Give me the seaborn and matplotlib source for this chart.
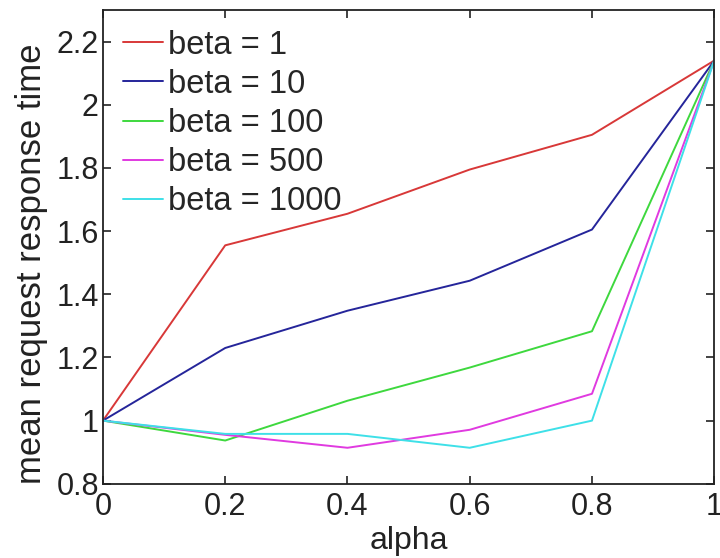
import matplotlib
matplotlib.use("Agg")
import matplotlib.pyplot as plt
import pandas as pd
import seaborn as sns

# ── data ──────────────────────────────────────────────────────────────────
alpha = [0.0, 0.2, 0.4, 0.6, 0.8, 1.0]
beta_labels = ["beta = 1", "beta = 10", "beta = 100", "beta = 500", "beta = 1000"]
rt_beta1 = [1.00, 1.555, 1.655, 1.795, 1.905, 2.14]
rt_beta10 = [1.00, 1.230, 1.348, 1.443, 1.605, 2.14]
rt_beta100 = [1.00, 0.937, 1.063, 1.168, 1.283, 2.14]
rt_beta500 = [1.00, 0.955, 0.914, 0.971, 1.085, 2.14]
rt_beta1000 = [1.00, 0.958, 0.958, 0.914, 1.000, 2.14]
line_colors = ["#d83838", "#25259a", "#3ed83e", "#e03ae0", "#3ee0e8"]

series = [rt_beta1, rt_beta10, rt_beta100, rt_beta500, rt_beta1000]
rows = []
for lab, vals in zip(beta_labels, series):
    for a, v in zip(alpha, vals):
        rows.append({"alpha": a, "rt": v, "beta": lab})
df = pd.DataFrame(rows)

sns.set_theme(style="ticks")
plt.rcParams["font.family"] = ["Liberation Sans", "DejaVu Sans"]
INK = "#222222"

fig = plt.figure(figsize=(7.2, 5.58), dpi=100)
ax = fig.add_axes([0.143, 0.133, 0.849, 0.849])

sns.lineplot(data=df, x="alpha", y="rt", hue="beta", hue_order=beta_labels,
             palette=dict(zip(beta_labels, line_colors)), lw=1.4, ax=ax)

ax.set_xlim(0, 1)
ax.set_ylim(0.8, 2.3)
ax.set_xticks([0, 0.2, 0.4, 0.6, 0.8, 1])
ax.set_xticklabels(["0", "0.2", "0.4", "0.6", "0.8", "1"])
ax.set_yticks([0.8, 1, 1.2, 1.4, 1.6, 1.8, 2, 2.2])
ax.set_yticklabels(["0.8", "1", "1.2", "1.4", "1.6", "1.8", "2", "2.2"])
ax.tick_params(direction="in", top=True, right=True, labelsize=22,
               length=6, width=1.2, colors=INK)
ax.tick_params(axis="y", pad=3)
ax.tick_params(axis="x", pad=6)
for sp in ax.spines.values():
    sp.set_visible(True)
    sp.set_linewidth(1.3)
    sp.set_color(INK)

ax.set_xlabel("alpha", fontsize=23, color=INK, labelpad=3)
ax.set_ylabel("mean request response time", fontsize=25, color=INK)
ax.yaxis.set_label_coords(-0.09, 0.465)

ax.legend(loc="upper left", frameon=False, fontsize=23.5, handlelength=1.25,
          handletextpad=0.15, labelspacing=0.25, borderpad=0.2,
          borderaxespad=0.4)

fig.savefig("out.png", dpi=100)
